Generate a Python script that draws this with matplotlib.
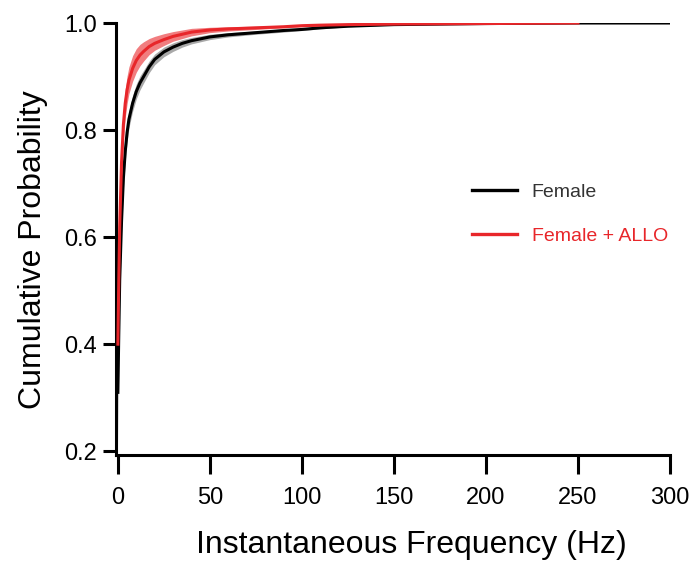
import numpy as np
import matplotlib.pyplot as plt

# ---- data ----
freq_female = [0, 0.5, 1, 2, 3, 4, 5, 6, 8, 10, 12, 14, 17, 20, 25, 30, 35, 40,
               50, 60, 75, 90, 100, 110, 125, 150, 200, 250, 300]
cdf_female = [0.31, 0.42, 0.52, 0.63, 0.71, 0.76, 0.795, 0.82, 0.85, 0.872, 0.888,
              0.90, 0.918, 0.932, 0.946, 0.955, 0.962, 0.967, 0.974, 0.978, 0.982,
              0.986, 0.988, 0.991, 0.994, 0.997, 0.999, 1.0, 1.0]
sem_female = [0.10, 0.04, 0.03, 0.022, 0.02, 0.018, 0.017, 0.016, 0.015, 0.014, 0.013,
              0.012, 0.011, 0.010, 0.009, 0.008, 0.007, 0.006, 0.005, 0.004, 0.003,
              0.003, 0.002, 0.002, 0.001, 0.001, 0.001, 0.0, 0.0]

freq_allo = [0, 0.5, 1, 2, 3, 4, 5, 6, 8, 10, 12, 14, 17, 20, 25, 30, 35, 40,
             50, 60, 75, 90, 100, 110, 125, 150, 200, 250]
cdf_allo = [0.40, 0.52, 0.62, 0.74, 0.81, 0.85, 0.875, 0.893, 0.915, 0.93, 0.94,
            0.947, 0.956, 0.962, 0.969, 0.975, 0.979, 0.983, 0.987, 0.989, 0.991,
            0.993, 0.995, 0.996, 0.997, 0.998, 0.999, 1.0]
sem_allo = [0.05, 0.04, 0.035, 0.03, 0.028, 0.027, 0.026, 0.025, 0.024, 0.022, 0.02,
            0.018, 0.015, 0.013, 0.011, 0.009, 0.008, 0.007, 0.005, 0.004, 0.003,
            0.002, 0.002, 0.002, 0.001, 0.001, 0.001, 0.0]

x_ticks = [0, 50, 100, 150, 200, 250, 300]
y_ticks = [0.2, 0.4, 0.6, 0.8, 1.0]

RED = "#e8262a"

plt.rcParams["font.family"] = ["Liberation Sans", "DejaVu Sans"]

fig = plt.figure(figsize=(6.89, 5.64), dpi=100)
ax = fig.add_axes([0.1684, 0.1933, 0.9724 - 0.1684, 0.9592 - 0.1933])

xf, yf, sf = map(np.array, (freq_female, cdf_female, sem_female))
xa, ya, sa = map(np.array, (freq_allo, cdf_allo, sem_allo))

ax.fill_between(xf, yf - sf, np.minimum(yf + sf, 1.0), color="#707070", alpha=0.6, lw=0, zorder=1)
ax.fill_between(xa, ya - sa, np.minimum(ya + sa, 1.0), color=RED, alpha=0.6, lw=0, zorder=2)
ax.plot(xf, yf, color="black", lw=2.2, label="Female", zorder=3)
ax.plot(xa, ya, color=RED, lw=2.2, label="Female + ALLO", zorder=4)

ax.set_xlim(-1, 300)
ax.set_ylim(0.193, 1.0)
ax.set_xticks(x_ticks)
ax.set_yticks(y_ticks)
ax.set_yticklabels([f"{v:.1f}" for v in y_ticks])

for s in ["top", "right"]:
    ax.spines[s].set_visible(False)
for s in ["left", "bottom"]:
    ax.spines[s].set_linewidth(2.2)
ax.tick_params(axis="x", length=14, width=2.2, labelsize=17, pad=9)
ax.tick_params(axis="y", length=9.5, width=2.2, labelsize=17, pad=4)

ax.set_xlabel("Instantaneous Frequency (Hz)", fontsize=23, labelpad=15, x=0.534)
ax.set_ylabel("Cumulative Probability", fontsize=23, labelpad=12, y=0.475)

leg = ax.legend(loc="center left", bbox_to_anchor=(0.643, 0.558), frameon=False,
                handlelength=2.3, handletextpad=0.75, labelspacing=1.36,
                borderpad=0, borderaxespad=0, prop={"size": 14})
leg.get_texts()[0].set_color("#333333")
leg.get_texts()[1].set_color(RED)
for line in leg.get_lines():
    line.set_linewidth(2.4)

fig.savefig("out.png", dpi=100, facecolor="white")
